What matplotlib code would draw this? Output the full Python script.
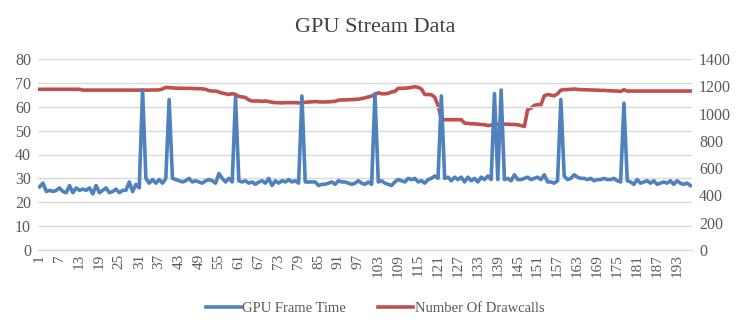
import matplotlib.pyplot as plt
import numpy as np

plt.rcParams['font.family'] = ['Liberation Serif', 'DejaVu Serif']

# GPU frame time per sample (left axis)
frame_time = [
    26.5, 28, 24.5, 25, 24.5, 25, 26, 24.5, 24, 27,          # 1-10
    24, 26, 25, 25.5, 25, 26, 23.5, 27, 24, 25,              # 11-20
    26, 24, 24.5, 25.5, 24, 25, 25, 28.5, 24.5, 27.5,        # 21-30
    26, 67, 30, 28, 29.5, 28, 29.5, 28, 30, 63,              # 31-40
    30, 29.5, 29, 28.5, 29, 30, 28.5, 29, 28.5, 28,          # 41-50
    29, 29.5, 29, 28, 32, 30, 28.5, 30, 28.5, 64,            # 51-60
    29, 28.5, 29, 28, 28.5, 27.5, 28.5, 29, 28, 30,          # 61-70
    27, 29, 28, 29, 28.5, 29.5, 28.5, 29, 28, 64.5,          # 71-80
    28.5, 28.5, 28.5, 28.5, 27, 27.5, 27.5, 28, 28.5, 27.5,  # 81-90
    29, 28.5, 28.5, 28, 27.5, 28, 29, 28, 27.5, 28.5,        # 91-100
    27.5, 65.5, 28.5, 29, 28, 27.5, 27, 28.5, 29.5, 29,      # 101-110
    28.5, 30, 29.5, 30, 28.5, 29, 28, 29.5, 30, 31,          # 111-120
    30, 64.5, 30, 30.5, 29, 30.5, 29.5, 30.5, 28.5, 30.5,    # 121-130
    29, 30, 28.5, 30.5, 29.5, 31, 29.5, 65.5, 29.5, 67,      # 131-140
    29.5, 30, 29, 31.5, 29.5, 29.5, 30, 30.5, 29.5, 30,      # 141-150
    30.5, 29.5, 31.5, 28.5, 28.5, 28, 29, 63, 31, 29.5,      # 151-160
    30, 31.5, 30.5, 30, 30, 29.5, 30, 29, 29.5, 29.5,        # 161-170
    30, 29.5, 29.5, 30, 29, 28.5, 61.5, 29, 28.5, 27.5,      # 171-180
    29.5, 28, 28.5, 29, 28, 29, 27.5, 28, 28.5, 28,          # 181-190
    29, 27.5, 29, 28, 27.5, 28, 27,                          # 191-197
]

# number of drawcalls per sample (right axis)
drawcalls = (
    [1178] * 13 + [1172] * 18 +                                              # 1-31
    [1172, 1172, 1172, 1173, 1173, 1174, 1180, 1192, 1190, 1188] +           # 32-41
    [1186, 1186, 1185, 1185, 1185, 1184, 1183, 1182, 1181] +                 # 42-50
    [1178, 1168, 1165, 1165, 1158, 1150, 1145, 1140, 1146, 1140] +           # 51-60
    [1125, 1122, 1118, 1100, 1092, 1092, 1092, 1090, 1092, 1088] +           # 61-70
    [1083, 1080, 1080, 1078, 1080, 1080, 1080, 1080, 1078, 1080] +           # 71-80
    [1082, 1085, 1086, 1088, 1086, 1085, 1085, 1086, 1088, 1090] +           # 81-90
    [1098, 1100, 1100, 1102, 1102, 1104, 1105, 1110, 1115, 1122] +           # 91-100
    [1128, 1140, 1152, 1145, 1145, 1148, 1158, 1162, 1185, 1185] +           # 101-110
    [1186, 1188, 1192, 1197, 1192, 1180, 1140, 1140, 1138, 1120] +           # 111-120
    [1060, 960, 955, 955, 955, 955, 955, 955, 930, 928] +                    # 121-130
    [925, 925, 922, 920, 918, 912, 915, 920, 922, 920] +                     # 131-140
    [922, 922, 920, 920, 918, 912, 905, 1030, 1040, 1060] +                  # 141-150
    [1065, 1065, 1130, 1140, 1135, 1130, 1145, 1172, 1175, 1176] +           # 151-160
    [1178, 1180, 1177, 1175, 1175, 1174, 1173, 1172, 1172, 1170] +           # 161-170
    [1170, 1168, 1167, 1166, 1165, 1162, 1175, 1165] +                       # 171-178
    [1165] * 19                                                              # 179-197
)

samples = np.arange(1, len(frame_time) + 1)
tick_samples = samples[::6]

fig = plt.figure(figsize=(7.5, 3.3), dpi=100)
ax = fig.add_axes([38 / 750, 80 / 330, 654 / 750, 191 / 330])
ax2 = ax.twinx()

l1, = ax.plot(samples, frame_time, color='#4F81BD', lw=2.6, label='GPU Frame Time', zorder=3)
l2, = ax2.plot(samples, drawcalls, color='#C0504D', lw=2.6, label='Number Of Drawcalls')
ax.set_zorder(ax2.get_zorder() + 1)
ax.patch.set_visible(False)

ax.set_xlim(0.5, len(samples) + 0.5)
ax.set_ylim(0, 80)
ax2.set_ylim(0, 1400)
ax.set_yticks(range(0, 81, 10))
ax2.set_yticks(range(0, 1401, 200))
ax.set_xticks(tick_samples)
ax.set_xticklabels([str(s) for s in tick_samples], rotation=90)

ax.grid(True, axis='y', color='#D9D9D9', lw=1)
for a in (ax, ax2):
    for side in ('top', 'left', 'right'):
        a.spines[side].set_visible(False)
    a.spines['bottom'].set_color('#D9D9D9')
    a.tick_params(length=0, labelsize=11.5, colors='#595959', pad=5)
ax.tick_params(axis='x', labelsize=11, pad=3)

fig.suptitle('GPU Stream Data', x=0.5, y=0.945, fontsize=16, color='#404040')
fig.legend(handles=[l1, l2], loc='center', bbox_to_anchor=(0.5, 0.065), ncol=2,
           frameon=False, fontsize=10.5, handlelength=2.4, handletextpad=0.1,
           columnspacing=2.2, labelcolor='#595959')

fig.savefig('out.png', dpi=100)
